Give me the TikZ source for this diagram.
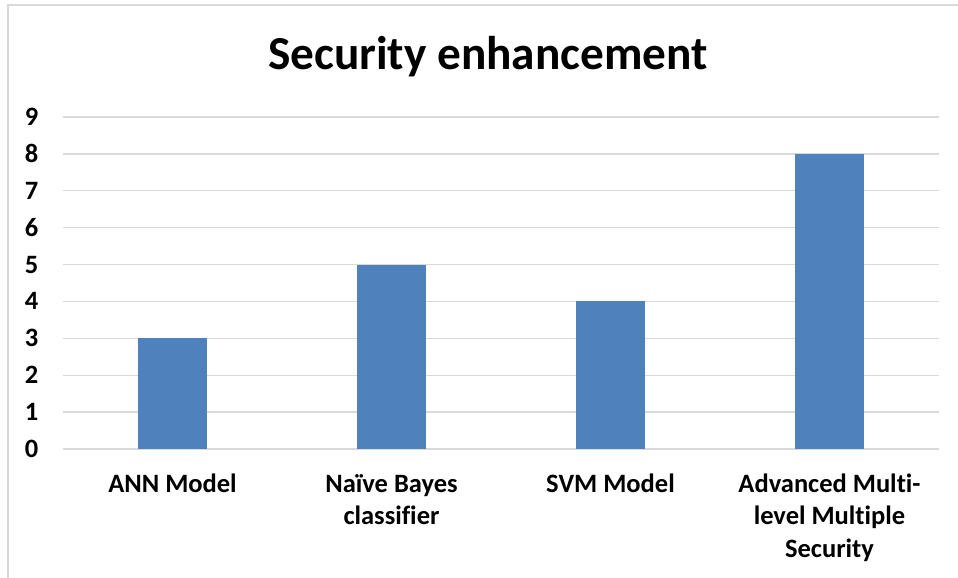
\documentclass[tikz,border=0pt]{standalone}
\usepackage{fontspec}
\setmainfont{Carlito}[Ligatures=NoCommon]
\definecolor{barblue}{HTML}{4F81BD}
\definecolor{gridgray}{HTML}{D9D9D9}
\tikzset{
  bar/.style={fill=barblue, draw=none},
  gridline/.style={draw=gridgray, line width=1.3pt},
  framebox/.style={draw=gridgray, line width=1.5pt},
  ticklabel/.style={anchor=base east, inner sep=0pt, font=\fontsize{26.5}{32}\selectfont\bfseries},
  catlabel/.style={anchor=base, inner sep=0pt, align=center, font=\fontsize{26.5}{32.5}\selectfont\bfseries},
  titlelabel/.style={anchor=base, inner sep=0pt, font=\fontsize{47.3}{56}\selectfont\bfseries}
}
\begin{document}
\begin{tikzpicture}[x=1pt,y=-1pt]
\useasboundingbox (0,0) rectangle (958,578);
\fill[white] (0,0) rectangle (958,578);
% frame (left and top edges visible)
\coordinate (fr1) at (8,585);
\coordinate (fr2) at (8,5);
\coordinate (fr3) at (965,5);
\draw[framebox] (fr1) -- (fr2) -- (fr3);
% title
\node[titlelabel] (title) at (488,70) {Security enhancement};
% gridlines and tick labels
\foreach \k in {0,...,9} {
  \pgfmathsetmacro{\yy}{449-36.889*\k}
  \coordinate (gl\k) at (63,\yy);
  \coordinate (gr\k) at (939,\yy);
  \draw[gridline] (gl\k) -- (gr\k);
  \node[ticklabel] (t\k) at (38.5,\yy+8.5) {\k};
}
% bars
\fill[bar] (138,449) rectangle (207,{449-36.889*3});
\fill[bar] (357,449) rectangle (426,{449-36.889*5});
\fill[bar] (576,449) rectangle (645,{449-36.889*4});
\fill[bar] (795,449) rectangle (864,{449-36.889*8});
% category labels (base anchor = baseline of last line)
\node[catlabel] (c1) at (172.5,492) {ANN Model};
\node[catlabel] (c2) at (391.5,524.5) {Naïve Bayes\\classifier};
\node[catlabel] (c3) at (610.5,492) {SVM Model};
\node[catlabel] (c4) at (829.5,557) {Advanced Multi-\\level Multiple\\Security};
\end{tikzpicture}
\end{document}
